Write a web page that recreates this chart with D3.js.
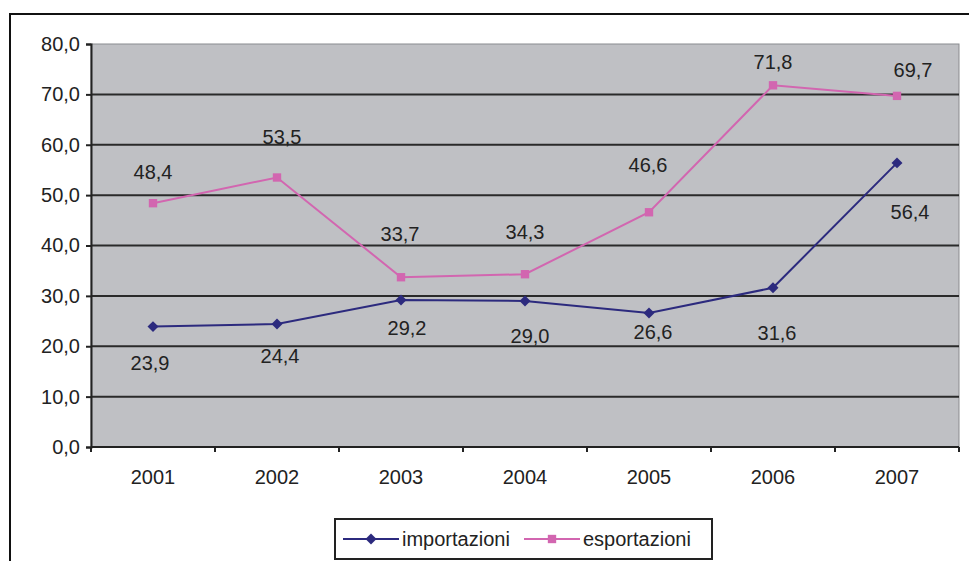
<!DOCTYPE html>
<html>
<head>
<meta charset="utf-8">
<script src="https://cdn.jsdelivr.net/npm/d3@7"></script>
<style>
  html, body { margin: 0; padding: 0; background: #fff; }
  svg text { font-family: "Liberation Sans", Arial, sans-serif; fill: #222; }
</style>
</head>
<body>
<svg id="chart" width="969" height="561"></svg>
<script>
// Years on the category axis
const years = ["2001", "2002", "2003", "2004", "2005", "2006", "2007"];
// Imports and exports per year
const importazioni = [23.9, 24.4, 29.2, 29.0, 26.6, 31.6, 56.4];
const esportazioni = [48.4, 53.5, 33.7, 34.3, 46.6, 71.8, 69.7];
// Value axis ticks
const yTicks = [0, 10, 20, 30, 40, 50, 60, 70, 80];

// Hand-placed data label offsets [dx, dy] from each marker
const impLabelNudge = [[-3, 36], [3, 32], [6, 28], [5, 35], [4, 19], [4, 45], [13, 49]];
const expLabelNudge = [[0, -31], [5, -40], [-1, -43], [0, -42], [-1, -47], [0, -23], [16, -26]];

const fmt = v => v.toFixed(1).replace(".", ",");
const FS = 20;

const svg = d3.select("#chart");
const plot = { left: 91, right: 959, top: 44, bottom: 447 };

const x = d3.scalePoint().domain(years).range([plot.left, plot.right]).padding(0.5);
const band = d3.scaleBand().domain(years).range([plot.left, plot.right]);
const y = d3.scaleLinear().domain([0, 80]).range([plot.bottom, plot.top]);

// outer frame (top and left edges visible, rest runs off the page)
svg.append("rect")
  .attr("x", 10).attr("y", 14)
  .attr("width", 1000).attr("height", 600)
  .attr("fill", "#fff").attr("stroke", "#111").attr("stroke-width", 2);

// plot background
svg.append("rect")
  .attr("x", plot.left).attr("y", plot.top)
  .attr("width", plot.right - plot.left).attr("height", plot.bottom - plot.top)
  .attr("fill", "#bfc0c4").attr("stroke", "#8a8b8f").attr("stroke-width", 1);

// horizontal gridlines
svg.append("g").selectAll("line")
  .data(yTicks.filter(t => t > 0 && t < 80))
  .join("line")
  .attr("x1", plot.left).attr("x2", plot.right)
  .attr("y1", d => y(d)).attr("y2", d => y(d))
  .attr("stroke", "#2a2a2a").attr("stroke-width", 2);

// y axis
const yAxis = svg.append("g")
  .attr("transform", `translate(${plot.left},0)`)
  .call(d3.axisLeft(y).tickValues(yTicks).tickSize(5).tickPadding(6).tickFormat(fmt));
yAxis.select(".domain").attr("stroke", "#222").attr("stroke-width", 2);
yAxis.selectAll(".tick line").attr("stroke", "#222").attr("stroke-width", 2);
yAxis.selectAll(".tick text").attr("font-size", FS).attr("fill", "#222")
  .attr("font-family", "Liberation Sans, Arial, sans-serif");

// x axis: ticks at category boundaries, labels at centres
const edges = years.map(d => band(d)).concat([band.range()[1]]);
const xAxis = svg.append("g").attr("transform", `translate(0,${plot.bottom})`);
xAxis.append("line")
  .attr("x1", plot.left).attr("x2", plot.right)
  .attr("stroke", "#222").attr("stroke-width", 2);
xAxis.selectAll("line.tk").data(edges).join("line")
  .attr("class", "tk")
  .attr("x1", d => d).attr("x2", d => d)
  .attr("y1", 0).attr("y2", 5)
  .attr("stroke", "#222").attr("stroke-width", 2);
xAxis.selectAll("text").data(years).join("text")
  .attr("x", d => x(d)).attr("y", 30)
  .attr("text-anchor", "middle").attr("dominant-baseline", "central")
  .attr("font-size", FS)
  .text(d => d);

// diamond = square turned 45 degrees
const series = [
  { name: "importazioni", values: importazioni, color: "#2c2a7e", symbol: d3.symbolSquare, size: 60, rot: 45, nudge: impLabelNudge },
  { name: "esportazioni", values: esportazioni, color: "#d266b0", symbol: d3.symbolSquare, size: 70, rot: 0, nudge: expLabelNudge }
];

const line = d3.line().x((d, i) => x(years[i])).y(d => y(d));

series.forEach(s => {
  const g = svg.append("g");
  g.append("path")
    .datum(s.values)
    .attr("d", line)
    .attr("fill", "none")
    .attr("stroke", s.color)
    .attr("stroke-width", 2);
  g.selectAll("path.mk").data(s.values).join("path")
    .attr("class", "mk")
    .attr("transform", (d, i) => `translate(${x(years[i])},${y(d)}) rotate(${s.rot})`)
    .attr("d", d3.symbol().type(s.symbol).size(s.size))
    .attr("fill", s.color);
  g.selectAll("text").data(s.values).join("text")
    .attr("x", (d, i) => x(years[i]) + s.nudge[i][0])
    .attr("y", (d, i) => y(d) + s.nudge[i][1])
    .attr("text-anchor", "middle").attr("dominant-baseline", "central")
    .attr("font-size", FS)
    .text(fmt);
});

// legend
const legend = svg.append("g");
legend.append("rect")
  .attr("x", 335).attr("y", 519).attr("width", 377).attr("height", 40)
  .attr("fill", "#fff").attr("stroke", "#222").attr("stroke-width", 2);
const legendItems = [
  { s: series[0], x0: 343, tx: 402 },
  { s: series[1], x0: 524, tx: 583 }
];
legendItems.forEach(it => {
  const cy = 539;
  legend.append("line")
    .attr("x1", it.x0).attr("x2", it.x0 + 56)
    .attr("y1", cy).attr("y2", cy)
    .attr("stroke", it.s.color).attr("stroke-width", 2);
  legend.append("path")
    .attr("transform", `translate(${it.x0 + 28},${cy}) rotate(${it.s.rot})`)
    .attr("d", d3.symbol().type(it.s.symbol).size(it.s.size))
    .attr("fill", it.s.color);
  legend.append("text")
    .attr("x", it.tx).attr("y", cy)
    .attr("dominant-baseline", "central")
    .attr("font-size", FS)
    .text(it.s.name);
});
</script>
</body>
</html>
